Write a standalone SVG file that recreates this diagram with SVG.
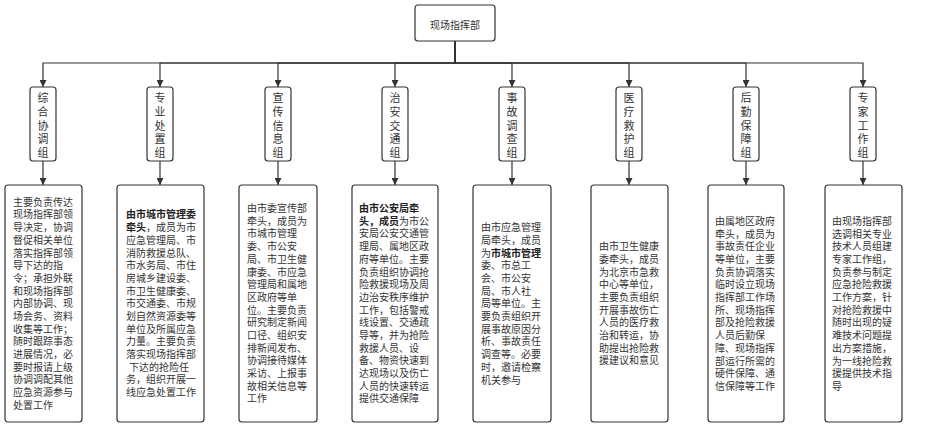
<svg xmlns="http://www.w3.org/2000/svg" width="929" height="426" viewBox="0 0 929 426">
<defs>
<marker id="arr" markerUnits="userSpaceOnUse" markerWidth="8" markerHeight="7" refX="7" refY="3.5" orient="auto">
<path d="M0,0 L7,3.5 L0,7 Z" fill="#333"/>
</marker>
<style>
.box{fill:#fff;stroke:#333;stroke-width:1.2}
.ln{fill:none;stroke:#333;stroke-width:1.2}
.t{font-family:"Liberation Sans","Noto Sans CJK SC",sans-serif;fill:#333;font-size:10px}
.v{font-family:"Liberation Sans","Noto Sans CJK SC",sans-serif;fill:#333;font-size:11px;text-anchor:middle}
.b{font-weight:bold;fill:#222}
</style>
</defs>
<rect width="929" height="426" fill="#fff"/>
<g id="connectors">
<path class="ln" d="M455,41 V63 H43 V87" marker-end="url(#arr)"/>
<path class="ln" d="M455,41 V63 H160 V87" marker-end="url(#arr)"/>
<path class="ln" d="M455,41 V63 H278 V87" marker-end="url(#arr)"/>
<path class="ln" d="M455,41 V63 H395 V87" marker-end="url(#arr)"/>
<path class="ln" d="M455,41 V63 H512 V87" marker-end="url(#arr)"/>
<path class="ln" d="M455,41 V63 H629 V87" marker-end="url(#arr)"/>
<path class="ln" d="M455,41 V63 H746 V87" marker-end="url(#arr)"/>
<path class="ln" d="M455,41 V63 H863 V87" marker-end="url(#arr)"/>
<path class="ln" d="M43,161 V185" marker-end="url(#arr)"/>
<path class="ln" d="M160,161 V185" marker-end="url(#arr)"/>
<path class="ln" d="M278,161 V185" marker-end="url(#arr)"/>
<path class="ln" d="M395,161 V185" marker-end="url(#arr)"/>
<path class="ln" d="M512,161 V185" marker-end="url(#arr)"/>
<path class="ln" d="M629,161 V185" marker-end="url(#arr)"/>
<path class="ln" d="M746,161 V185" marker-end="url(#arr)"/>
<path class="ln" d="M863,161 V185" marker-end="url(#arr)"/>
</g>
<g id="hq">
<rect class="box" x="415" y="5" width="80" height="36" rx="3"/>
<text class="t" x="455" y="28.5" text-anchor="middle">现场指挥部</text>
</g>
<g id="g1">
<rect class="box" x="30" y="87" width="26" height="74" rx="3"/>
<text class="v"><tspan x="43" y="102">综</tspan><tspan x="43" y="115.75">合</tspan><tspan x="43" y="129.5">协</tspan><tspan x="43" y="143.25">调</tspan><tspan x="43" y="157">组</tspan></text>
</g>
<g id="g2">
<rect class="box" x="147" y="87" width="26" height="74" rx="3"/>
<text class="v"><tspan x="160" y="102">专</tspan><tspan x="160" y="115.75">业</tspan><tspan x="160" y="129.5">处</tspan><tspan x="160" y="143.25">置</tspan><tspan x="160" y="157">组</tspan></text>
</g>
<g id="g3">
<rect class="box" x="265" y="87" width="26" height="74" rx="3"/>
<text class="v"><tspan x="278" y="102">宣</tspan><tspan x="278" y="115.75">传</tspan><tspan x="278" y="129.5">信</tspan><tspan x="278" y="143.25">息</tspan><tspan x="278" y="157">组</tspan></text>
</g>
<g id="g4">
<rect class="box" x="382" y="87" width="26" height="74" rx="3"/>
<text class="v"><tspan x="395" y="102">治</tspan><tspan x="395" y="115.75">安</tspan><tspan x="395" y="129.5">交</tspan><tspan x="395" y="143.25">通</tspan><tspan x="395" y="157">组</tspan></text>
</g>
<g id="g5">
<rect class="box" x="499" y="87" width="26" height="74" rx="3"/>
<text class="v"><tspan x="512" y="102">事</tspan><tspan x="512" y="115.75">故</tspan><tspan x="512" y="129.5">调</tspan><tspan x="512" y="143.25">查</tspan><tspan x="512" y="157">组</tspan></text>
</g>
<g id="g6">
<rect class="box" x="616" y="87" width="26" height="74" rx="3"/>
<text class="v"><tspan x="629" y="102">医</tspan><tspan x="629" y="115.75">疗</tspan><tspan x="629" y="129.5">救</tspan><tspan x="629" y="143.25">护</tspan><tspan x="629" y="157">组</tspan></text>
</g>
<g id="g7">
<rect class="box" x="733" y="87" width="26" height="74" rx="3"/>
<text class="v"><tspan x="746" y="102">后</tspan><tspan x="746" y="115.75">勤</tspan><tspan x="746" y="129.5">保</tspan><tspan x="746" y="143.25">障</tspan><tspan x="746" y="157">组</tspan></text>
</g>
<g id="g8">
<rect class="box" x="850" y="87" width="26" height="74" rx="3"/>
<text class="v"><tspan x="863" y="102">专</tspan><tspan x="863" y="115.75">家</tspan><tspan x="863" y="129.5">工</tspan><tspan x="863" y="143.25">作</tspan><tspan x="863" y="157">组</tspan></text>
</g>
<g id="d1">
<rect class="box" x="5" y="185" width="77" height="237" rx="3"/>
<text class="t"><tspan x="13" y="205.7">主要负责传达</tspan><tspan x="13" dy="12.7">现场指挥部领</tspan><tspan x="13" dy="12.7">导决定，协调</tspan><tspan x="13" dy="12.7">督促相关单位</tspan><tspan x="13" dy="12.7">落实指挥部领</tspan><tspan x="13" dy="12.7">导下达的指</tspan><tspan x="13" dy="12.7">令；承担外联</tspan><tspan x="13" dy="12.7">和现场指挥部</tspan><tspan x="13" dy="12.7">内部协调、现</tspan><tspan x="13" dy="12.7">场会务、资料</tspan><tspan x="13" dy="12.7">收集等工作；</tspan><tspan x="13" dy="12.7">随时跟踪事态</tspan><tspan x="13" dy="12.7">进展情况，必</tspan><tspan x="13" dy="12.7">要时报请上级</tspan><tspan x="13" dy="12.7">协调调配其他</tspan><tspan x="13" dy="12.7">应急资源参与</tspan><tspan x="13" dy="12.7">处置工作</tspan></text>
</g>
<g id="d2">
<rect class="box" x="117" y="185" width="87" height="237" rx="3"/>
<text class="t"><tspan x="126" y="218.4" class="b">由市城市管理委</tspan><tspan x="126" dy="12.7"><tspan class="b">牵头</tspan>，成员为市</tspan><tspan x="126" dy="12.7">应急管理局、市</tspan><tspan x="126" dy="12.7">消防救援总队、</tspan><tspan x="126" dy="12.7">市水务局、市住</tspan><tspan x="126" dy="12.7">房城乡建设委、</tspan><tspan x="126" dy="12.7">市卫生健康委、</tspan><tspan x="126" dy="12.7">市交通委、市规</tspan><tspan x="126" dy="12.7">划自然资源委等</tspan><tspan x="126" dy="12.7">单位及所属应急</tspan><tspan x="126" dy="12.7">力量。主要负责</tspan><tspan x="126" dy="12.7">落实现场指挥部</tspan><tspan x="129" dy="12.7">下达的抢险任</tspan><tspan x="126" dy="12.7">务，组织开展一</tspan><tspan x="126" dy="12.7">线应急处置工作</tspan></text>
</g>
<g id="d3">
<rect class="box" x="239" y="185" width="78" height="237" rx="3"/>
<text class="t"><tspan x="247" y="212">由市委宣传部</tspan><tspan x="247" dy="12.7">牵头，成员为</tspan><tspan x="247" dy="12.7">市城市管理</tspan><tspan x="247" dy="12.7">委、市公安</tspan><tspan x="247" dy="12.7">局、市卫生健</tspan><tspan x="247" dy="12.7">康委、市应急</tspan><tspan x="247" dy="12.7">管理局和属地</tspan><tspan x="247" dy="12.7">区政府等单</tspan><tspan x="247" dy="12.7">位。主要负责</tspan><tspan x="247" dy="12.7">研究制定新闻</tspan><tspan x="247" dy="12.7">口径、组织安</tspan><tspan x="247" dy="12.7">排新闻发布、</tspan><tspan x="247" dy="12.7">协调接待媒体</tspan><tspan x="247" dy="12.7">采访、上报事</tspan><tspan x="247" dy="12.7">故相关信息等</tspan><tspan x="247" dy="12.7">工作</tspan></text>
</g>
<g id="d4">
<rect class="box" x="352" y="185" width="86" height="237" rx="3"/>
<text class="t"><tspan x="359" y="212" class="b">由市公安局牵</tspan><tspan x="359" dy="12.7"><tspan class="b">头，成员</tspan>为市公</tspan><tspan x="359" dy="12.7">安局公安交通管</tspan><tspan x="359" dy="12.7">理局、属地区政</tspan><tspan x="359" dy="12.7">府等单位。主要</tspan><tspan x="359" dy="12.7">负责组织协调抢</tspan><tspan x="359" dy="12.7">险救援现场及周</tspan><tspan x="359" dy="12.7">边治安秩序维护</tspan><tspan x="359" dy="12.7">工作，包括警戒</tspan><tspan x="359" dy="12.7">线设置、交通疏</tspan><tspan x="359" dy="12.7">导等，并为抢险</tspan><tspan x="359" dy="12.7">救援人员、设</tspan><tspan x="359" dy="12.7">备、物资快速到</tspan><tspan x="359" dy="12.7">达现场以及伤亡</tspan><tspan x="359" dy="12.7">人员的快速转运</tspan><tspan x="359" dy="12.7">提供交通保障</tspan></text>
</g>
<g id="d5">
<rect class="box" x="473" y="185" width="78" height="237" rx="3"/>
<text class="t"><tspan x="481" y="231.1">由市应急管理</tspan><tspan x="481" dy="12.7">局牵头，成员</tspan><tspan x="481" dy="12.7">为<tspan class="b">市城市管理</tspan></tspan><tspan x="481" dy="12.7">委、市总工</tspan><tspan x="481" dy="12.7">会、市公安</tspan><tspan x="481" dy="12.7">局、市人社</tspan><tspan x="481" dy="12.7">局等单位。主</tspan><tspan x="481" dy="12.7">要负责组织开</tspan><tspan x="481" dy="12.7">展事故原因分</tspan><tspan x="481" dy="12.7">析、事故责任</tspan><tspan x="481" dy="12.7">调查等。必要</tspan><tspan x="481" dy="12.7">时，邀请检察</tspan><tspan x="481" dy="12.7">机关参与</tspan></text>
</g>
<g id="d6">
<rect class="box" x="591" y="185" width="77" height="237" rx="3"/>
<text class="t"><tspan x="599" y="250.1">由市卫生健康</tspan><tspan x="599" dy="12.7">委牵头，成员</tspan><tspan x="599" dy="12.7">为北京市急救</tspan><tspan x="599" dy="12.7">中心等单位，</tspan><tspan x="599" dy="12.7">主要负责组织</tspan><tspan x="599" dy="12.7">开展事故伤亡</tspan><tspan x="599" dy="12.7">人员的医疗救</tspan><tspan x="599" dy="12.7">治和转运，协</tspan><tspan x="599" dy="12.7">助提出抢险救</tspan><tspan x="599" dy="12.7">援建议和意见</tspan></text>
</g>
<g id="d7">
<rect class="box" x="708" y="185" width="76" height="237" rx="3"/>
<text class="t"><tspan x="715" y="224.8">由属地区政府</tspan><tspan x="715" dy="12.7">牵头，成员为</tspan><tspan x="715" dy="12.7">事故责任企业</tspan><tspan x="715" dy="12.7">等单位，主要</tspan><tspan x="715" dy="12.7">负责协调落实</tspan><tspan x="715" dy="12.7">临时设立现场</tspan><tspan x="715" dy="12.7">指挥部工作场</tspan><tspan x="715" dy="12.7">所、现场指挥</tspan><tspan x="715" dy="12.7">部及抢险救援</tspan><tspan x="715" dy="12.7">人员后勤保</tspan><tspan x="715" dy="12.7">障、现场指挥</tspan><tspan x="715" dy="12.7">部运行所需的</tspan><tspan x="715" dy="12.7">硬件保障、通</tspan><tspan x="715" dy="12.7">信保障等工作</tspan></text>
</g>
<g id="d8">
<rect class="box" x="825" y="185" width="77" height="237" rx="3"/>
<text class="t"><tspan x="832" y="224.8">由现场指挥部</tspan><tspan x="832" dy="12.7">选调相关专业</tspan><tspan x="832" dy="12.7">技术人员组建</tspan><tspan x="832" dy="12.7">专家工作组，</tspan><tspan x="832" dy="12.7">负责参与制定</tspan><tspan x="832" dy="12.7">应急抢险救援</tspan><tspan x="832" dy="12.7">工作方案，针</tspan><tspan x="832" dy="12.7">对抢险救援中</tspan><tspan x="832" dy="12.7">随时出现的疑</tspan><tspan x="832" dy="12.7">难技术问题提</tspan><tspan x="832" dy="12.7">出方案措施，</tspan><tspan x="832" dy="12.7">为一线抢险救</tspan><tspan x="832" dy="12.7">援提供技术指</tspan><tspan x="832" dy="12.7">导</tspan></text>
</g>
</svg>
